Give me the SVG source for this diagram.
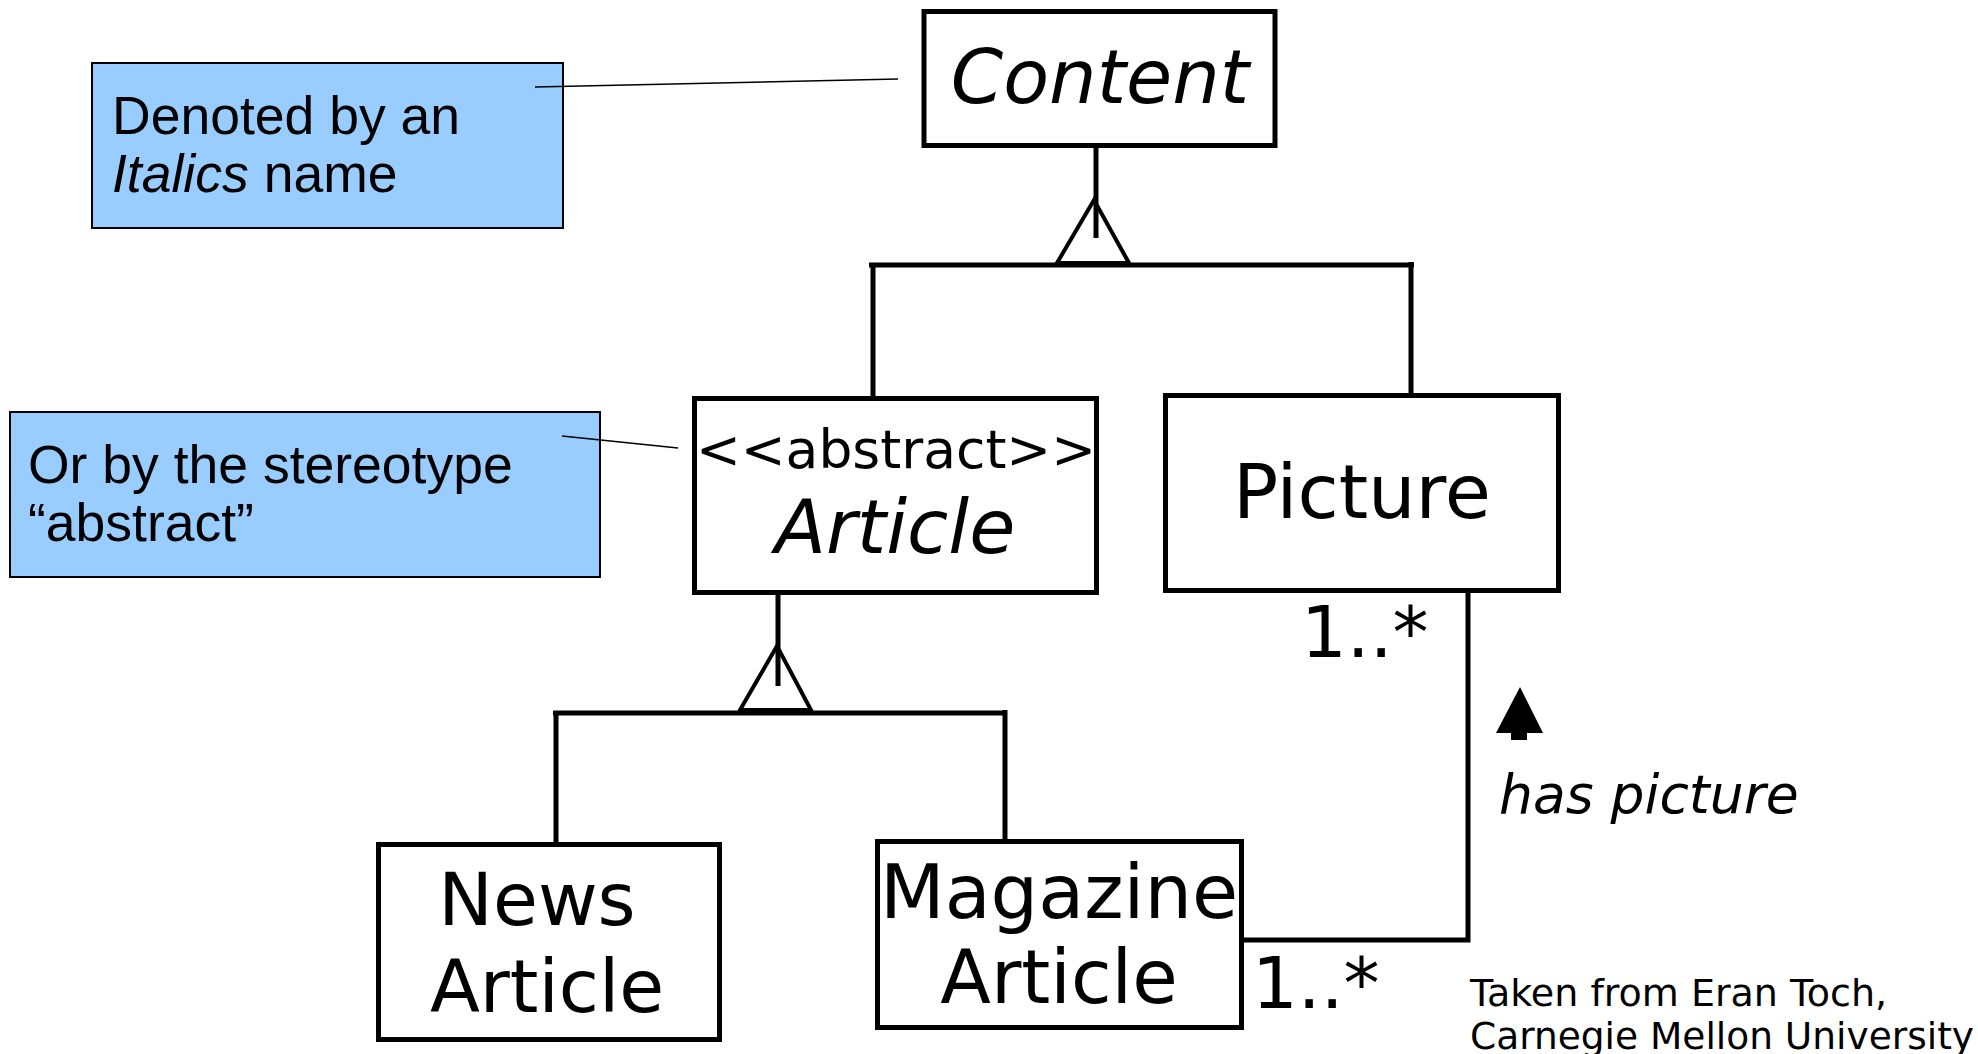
<svg xmlns="http://www.w3.org/2000/svg" width="1978" height="1054" viewBox="0 0 1978 1054">
  <style>
    .cls { fill: #ffffff; stroke: #000000; stroke-width: 5; }
    .note { fill: #99ccff; stroke: #000000; stroke-width: 2; }
    .wire { fill: none; stroke: #000000; stroke-width: 5; stroke-linecap: butt; }
    .gen { fill: none; stroke: #000000; stroke-width: 4; stroke-linejoin: miter; }
    .anchor { fill: none; stroke: #000000; stroke-width: 1.5; }
    .uml { font-family: "DejaVu Sans", sans-serif; fill: #000000; }
    .it { font-style: italic; }
    .memo { font-family: "Liberation Sans", Arial, sans-serif; font-size: 53.5px; fill: #000000; }
  </style>
  <rect width="1978" height="1054" fill="#ffffff"/>

  <g id="note-italics">
    <rect class="note" x="92" y="63" width="471" height="165"/>
    <text class="memo" x="112" y="134">Denoted by an</text>
    <text class="memo" x="112" y="192"><tspan font-style="italic">Italics</tspan> name</text>
  </g>

  <g id="note-stereotype">
    <rect class="note" x="10" y="412" width="590" height="165"/>
    <text class="memo" x="28" y="483">Or by the stereotype</text>
    <text class="memo" x="28" y="541">“abstract”</text>
  </g>

  <g id="content">
    <rect class="cls" x="924" y="11.5" width="351" height="134"/>
    <text class="uml it" x="1100" y="103" font-size="75" text-anchor="middle">Content</text>
  </g>

  <g id="article">
    <rect class="cls" x="694.5" y="398.5" width="402" height="194"/>
    <text class="uml" x="896" y="468" font-size="53.5" text-anchor="middle">&lt;&lt;abstract&gt;&gt;</text>
    <text class="uml it" x="895" y="553" font-size="75" text-anchor="middle">Article</text>
  </g>

  <g id="picture">
    <rect class="cls" x="1165.5" y="395.5" width="393" height="195"/>
    <text class="uml" x="1362" y="518" font-size="75" text-anchor="middle">Picture</text>
  </g>

  <g id="news-article">
    <rect class="cls" x="378.5" y="844.5" width="341" height="195"/>
    <text class="uml" x="537" y="925" font-size="73" text-anchor="middle">News</text>
    <text class="uml" x="547" y="1012" font-size="73" text-anchor="middle">Article</text>
  </g>

  <g id="magazine-article">
    <rect class="cls" x="877.5" y="841.5" width="364" height="186"/>
    <text class="uml" x="1059" y="918" font-size="75" text-anchor="middle">Magazine</text>
    <text class="uml" x="1059" y="1003" font-size="74" text-anchor="middle">Article</text>
  </g>

  <g id="credit">
    <text class="uml" x="1470" y="1006" font-size="38">Taken from Eran Toch,</text>
    <text class="uml" x="1470" y="1049" font-size="37.5">Carnegie Mellon University</text>
  </g>

  <!-- connectors: generalisations, association, note anchors -->
  <g id="connectors">
    <!-- Content generalisation -->
    <line class="wire" x1="1096" y1="147" x2="1096" y2="238" stroke-width="4"/>
    <polygon class="gen" points="1094,200 1057,263 1129,263"/>
    <line class="wire" x1="869" y1="265" x2="1414" y2="265"/>
    <line class="wire" x1="873" y1="263" x2="873" y2="396" stroke-width="4"/>
    <line class="wire" x1="1411" y1="262" x2="1411" y2="393" stroke-width="4"/>
    <!-- Article generalisation -->
    <line class="wire" x1="778" y1="595" x2="778" y2="686" stroke-width="4"/>
    <polygon class="gen" points="777,646 740,710 811,710"/>
    <line class="wire" x1="553" y1="713" x2="1007" y2="713"/>
    <line class="wire" x1="556" y1="711" x2="556" y2="842" stroke-width="4"/>
    <line class="wire" x1="1005" y1="710" x2="1005" y2="839" stroke-width="4"/>
    <!-- has picture association -->
    <polyline class="wire" points="1244,940 1468,940 1468,593" stroke-width="4"/>
    <polygon points="1496,733 1543,733 1520,687" fill="#000000"/>
    <rect x="1511" y="732" width="16" height="8" fill="#000000"/>
    <text class="uml" x="1301" y="657" font-size="72">1..*</text>
    <text class="uml" x="1252" y="1008" font-size="72">1..*</text>
    <text class="uml it" x="1499" y="813" font-size="53.5">has picture</text>
    <!-- note anchors -->
    <line class="anchor" x1="535" y1="87" x2="898" y2="79"/>
    <line class="anchor" x1="562" y1="436" x2="678" y2="448"/>
  </g>
</svg>
